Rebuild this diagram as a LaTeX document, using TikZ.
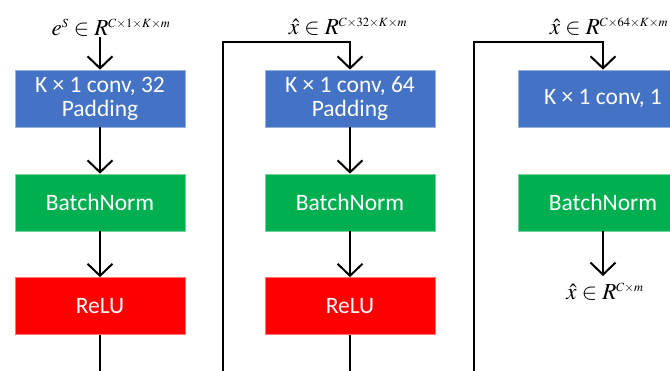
\documentclass[tikz,border=0pt]{standalone}
\usepackage{mathptmx}
\usepackage[no-math]{fontspec}
\newfontfamily\boxfont{Carlito}
\usetikzlibrary{arrows.meta}
\DeclareMathSizes{23}{23}{12.5}{9}
\definecolor{convblue}{HTML}{4472C4}
\definecolor{bngreen}{HTML}{00B050}
\definecolor{relured}{HTML}{FF0000}
\begin{document}
\begin{tikzpicture}[x=1pt,y=-1pt,
  blk/.style={minimum width=170pt,minimum height=57pt,inner sep=0pt,
    text=white,align=center,fill=#1,draw=#1!55!white,line width=0.7pt,
    font=\boxfont\fontsize{23.5}{24}\selectfont},
  flow/.style={line width=2pt,-{Straight Barb[length=12pt,width=25pt]}},
  wire/.style={line width=2pt},
  lab/.style={inner sep=0pt,anchor=base,font=\fontsize{23}{25}\selectfont}]
\useasboundingbox (0,0) rectangle (670,371);
\clip (0,0) rectangle (670,371);

% column 1: first convolution stage
\node[lab] (l1) at (111,36) {$e^S \in R^{C\times 1\times K\times m}$};
\node[blk=convblue] (c1) at (100,98.5) {K × 1 conv, 32\\Padding};
\node[blk=bngreen]  (b1) at (100,202.5) {BatchNorm};
\node[blk=relured]  (r1) at (100,306) {ReLU};
\coordinate (o1) at (100,373);
\draw[flow] (l1.south -| c1.north) -- (c1.north);
\draw[flow] (c1) -- (b1);
\draw[flow] (b1) -- (r1);
\draw[wire] (r1) -- (o1);

% column 2: second convolution stage
\node[lab] (l2) at (348,35) {$\hat{x} \in R^{C\times 32\times K\times m}$};
\node[blk=convblue] (c2) at (350,98.5) {K × 1 conv, 64\\Padding};
\node[blk=bngreen]  (b2) at (350,202.5) {BatchNorm};
\node[blk=relured]  (r2) at (350,306) {ReLU};
\coordinate (i2) at (223,373);
\coordinate (t2) at (223,42);
\coordinate (o2) at (350,373);
\draw[flow] (i2) -- (t2) -| (c2.north);
\draw[flow] (c2) -- (b2);
\draw[flow] (b2) -- (r2);
\draw[wire] (r2) -- (o2);

% column 3: output convolution
\node[lab] (l3) at (609,35) {$\hat{x} \in R^{C\times 64\times K\times m}$};
\node[blk=convblue] (c3) at (603,98.5) {K × 1 conv, 1};
\node[blk=bngreen]  (b3) at (603,202.5) {BatchNorm};
\node[lab] (y3) at (605,300) {$\hat{x} \in R^{C\times m}$};
\coordinate (i3) at (474,373);
\coordinate (t3) at (474,42);
\draw[flow] (i3) -- (t3) -| (c3.north);
\draw[flow] (b3) -- (b3.south |- 0,276);
\end{tikzpicture}
\end{document}
